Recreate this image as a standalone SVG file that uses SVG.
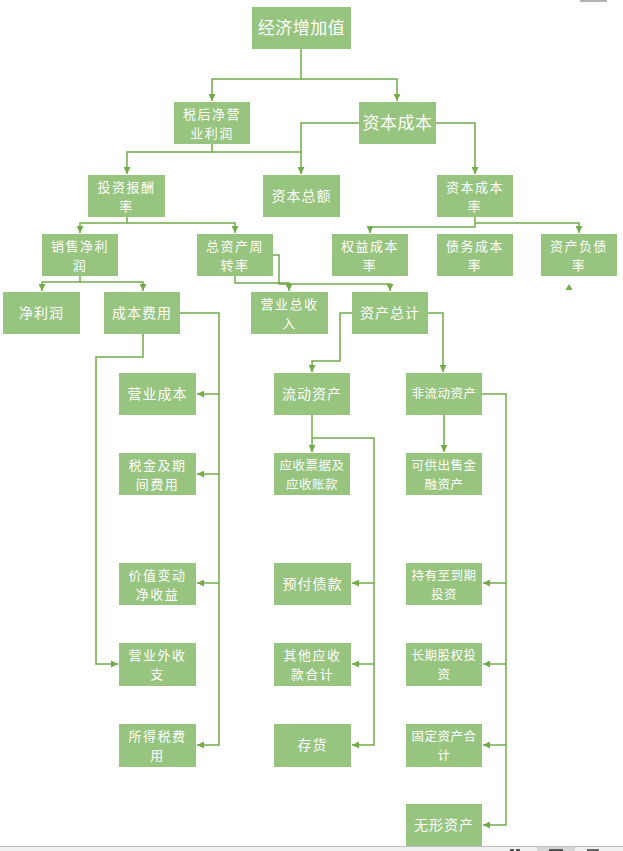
<svg xmlns="http://www.w3.org/2000/svg" width="623" height="851" viewBox="0 0 623 851">
<style>
.box{fill:#97c47f}
.t{fill:#ffffff;font-family:"Noto Sans CJK SC","Microsoft YaHei",sans-serif;font-size:14px;text-anchor:middle;letter-spacing:1px}
.d{font-size:13px;letter-spacing:1.5px}
.s{font-size:12.5px;letter-spacing:0.5px}
.l{font-size:17px;letter-spacing:0.5px}
.c{fill:none;stroke:#72ab4a;stroke-width:1.5}
</style>
<defs>
<marker id="ah" viewBox="0 0 8 8" refX="8" refY="4" markerWidth="7" markerHeight="7" markerUnits="userSpaceOnUse" orient="auto">
<path d="M0,0 L8,4 L0,8 z" fill="#72ab4a"/>
</marker>
</defs>
<rect width="623" height="851" fill="#ffffff"/>
<g id="connectors">
<path class="c" d="M301,49 V79 H212 V101" marker-end="url(#ah)"/>
<path class="c" d="M301,79 H397 V101" marker-end="url(#ah)"/>
<path class="c" d="M359,123 H301 V174" marker-end="url(#ah)"/>
<path class="c" d="M436,123 H475 V174" marker-end="url(#ah)"/>
<path class="c" d="M212,144 V152 H127 V174" marker-end="url(#ah)"/>
<path class="c" d="M212,152 H301"/>
<path class="c" d="M127,217 V223 H80 V233" marker-end="url(#ah)"/>
<path class="c" d="M127,223 H235 V233" marker-end="url(#ah)"/>
<path class="c" d="M80,276 V282 H42 V291" marker-end="url(#ah)"/>
<path class="c" d="M80,282 H143 V291" marker-end="url(#ah)"/>
<path class="c" d="M235,276 V283 H289 V291" marker-end="url(#ah)"/>
<path class="c" d="M273,255 H279 V284 H390 V291" marker-end="url(#ah)"/>
<path class="c" d="M475,217 V227 H370 V233" marker-end="url(#ah)"/>
<path class="c" d="M475,223 H579 V233" marker-end="url(#ah)"/>
<path d="M569,284 L572.5,290 L565.5,290 z" fill="#72ab4a"/>
<path class="c" d="M180,313 H219 V745 H197" marker-end="url(#ah)"/>
<path class="c" d="M219,394 H197" marker-end="url(#ah)"/>
<path class="c" d="M219,474 H197" marker-end="url(#ah)"/>
<path class="c" d="M219,583 H197" marker-end="url(#ah)"/>
<path class="c" d="M143,334 V357 H96 V664 H118" marker-end="url(#ah)"/>
<path class="c" d="M352,313 H340 V361 H312 V372" marker-end="url(#ah)"/>
<path class="c" d="M428,313 H443 V372" marker-end="url(#ah)"/>
<path class="c" d="M312,415 V452" marker-end="url(#ah)"/>
<path class="c" d="M312,438 H374 V745 H352" marker-end="url(#ah)"/>
<path class="c" d="M374,583 H352" marker-end="url(#ah)"/>
<path class="c" d="M374,664 H352" marker-end="url(#ah)"/>
<path class="c" d="M444,415 V452" marker-end="url(#ah)"/>
<path class="c" d="M482,394 H506 V825 H483" marker-end="url(#ah)"/>
<path class="c" d="M506,583 H483" marker-end="url(#ah)"/>
<path class="c" d="M506,664 H483" marker-end="url(#ah)"/>
<path class="c" d="M506,745 H483" marker-end="url(#ah)"/>
</g>
<g id="n_eva"><rect class="box" x="252" y="7" width="99" height="42"/><text class="t l" x="301.5" y="34">经济增加值</text></g>
<g id="n_nopat"><rect class="box" x="174" y="102" width="76" height="42"/><text class="t d" x="212" y="119">税后净营<tspan x="212" dy="19">业利润</tspan></text></g>
<g id="n_capcost"><rect class="box" x="359" y="102" width="77" height="42"/><text class="t l" x="397.5" y="129">资本成本</text></g>
<g id="n_roi"><rect class="box" x="88" y="175" width="77" height="42"/><text class="t d" x="126.5" y="192">投资报酬<tspan x="126.5" dy="19">率</tspan></text></g>
<g id="n_captotal"><rect class="box" x="263" y="175" width="77" height="42"/><text class="t" x="301.5" y="201">资本总额</text></g>
<g id="n_caprate"><rect class="box" x="437" y="175" width="76" height="42"/><text class="t d" x="475" y="192">资本成本<tspan x="475" dy="19">率</tspan></text></g>
<g id="n_npm"><rect class="box" x="42" y="234" width="76" height="42"/><text class="t d" x="80" y="251">销售净利<tspan x="80" dy="19">润</tspan></text></g>
<g id="n_turnover"><rect class="box" x="197" y="234" width="76" height="42"/><text class="t d" x="235" y="251">总资产周<tspan x="235" dy="19">转率</tspan></text></g>
<g id="n_equity"><rect class="box" x="332" y="234" width="76" height="42"/><text class="t d" x="370" y="251">权益成本<tspan x="370" dy="19">率</tspan></text></g>
<g id="n_debt"><rect class="box" x="437" y="234" width="76" height="42"/><text class="t d" x="475" y="251">债务成本<tspan x="475" dy="19">率</tspan></text></g>
<g id="n_leverage"><rect class="box" x="541" y="234" width="76" height="42"/><text class="t d" x="579" y="251">资产负债<tspan x="579" dy="19">率</tspan></text></g>
<g id="n_netprofit"><rect class="box" x="3" y="292" width="77" height="42"/><text class="t" x="41.5" y="318">净利润</text></g>
<g id="n_costexp"><rect class="box" x="104" y="292" width="76" height="42"/><text class="t" x="142" y="318">成本费用</text></g>
<g id="n_revenue"><rect class="box" x="251" y="292" width="77" height="42"/><text class="t d" x="289.5" y="309">营业总收<tspan x="289.5" dy="19">入</tspan></text></g>
<g id="n_assets"><rect class="box" x="352" y="292" width="76" height="42"/><text class="t" x="390" y="318">资产总计</text></g>
<g id="n_opcost"><rect class="box" x="119" y="373" width="77" height="42"/><text class="t" x="157.5" y="399">营业成本</text></g>
<g id="n_current"><rect class="box" x="274" y="373" width="76" height="42"/><text class="t" x="312" y="399">流动资产</text></g>
<g id="n_noncurrent"><rect class="box" x="406" y="373" width="76" height="42"/><text class="t s" x="444" y="398">非流动资产</text></g>
<g id="n_tax"><rect class="box" x="119" y="453" width="77" height="42"/><text class="t d" x="157.5" y="470">税金及期<tspan x="157.5" dy="19">间费用</tspan></text></g>
<g id="n_receivable"><rect class="box" x="274" y="453" width="76" height="42"/><text class="t s" x="312" y="470">应收票据及<tspan x="312" dy="18.5">应收账款</tspan></text></g>
<g id="n_afs"><rect class="box" x="406" y="453" width="76" height="42"/><text class="t s" x="444" y="470">可供出售金<tspan x="444" dy="18.5">融资产</tspan></text></g>
<g id="n_fairvalue"><rect class="box" x="119" y="563" width="77" height="42"/><text class="t d" x="157.5" y="580">价值变动<tspan x="157.5" dy="19">净收益</tspan></text></g>
<g id="n_prepaid"><rect class="box" x="274" y="563" width="77" height="42"/><text class="t" x="312.5" y="589">预付债款</text></g>
<g id="n_htm"><rect class="box" x="406" y="563" width="76" height="42"/><text class="t s" x="444" y="580">持有至到期<tspan x="444" dy="18.5">投资</tspan></text></g>
<g id="n_nonop"><rect class="box" x="119" y="643" width="77" height="43"/><text class="t d" x="157.5" y="660">营业外收<tspan x="157.5" dy="19">支</tspan></text></g>
<g id="n_otherrec"><rect class="box" x="274" y="643" width="77" height="43"/><text class="t d" x="312.5" y="660">其他应收<tspan x="312.5" dy="19">款合计</tspan></text></g>
<g id="n_ltequity"><rect class="box" x="406" y="643" width="76" height="43"/><text class="t s" x="444" y="660">长期股权投<tspan x="444" dy="18.5">资</tspan></text></g>
<g id="n_incometax"><rect class="box" x="119" y="724" width="77" height="43"/><text class="t d" x="157.5" y="741">所得税费<tspan x="157.5" dy="19">用</tspan></text></g>
<g id="n_inventory"><rect class="box" x="274" y="724" width="77" height="43"/><text class="t" x="312.5" y="750">存货</text></g>
<g id="n_fixed"><rect class="box" x="406" y="724" width="76" height="43"/><text class="t s" x="444" y="741">固定资产合<tspan x="444" dy="18.5">计</tspan></text></g>
<g id="n_intangible"><rect class="box" x="406" y="804" width="76" height="42"/><text class="t" x="444" y="830">无形资产</text></g>
<g id="chrome">
<line x1="580" y1="1" x2="607" y2="1" stroke="#9a9a9a" stroke-width="1.5"/>
<rect x="0" y="846" width="623" height="5" fill="#f0f0f0"/>
<line x1="0" y1="846.5" x2="623" y2="846.5" stroke="#bdbdbd" stroke-width="1"/>
<rect x="537" y="847" width="38" height="4" fill="#d6d6d6"/>
<rect x="510" y="849" width="4" height="2" fill="#555"/>
<rect x="516" y="849" width="4" height="2" fill="#555"/>
<rect x="549" y="849" width="14" height="2" fill="#555"/>
<rect x="587" y="849" width="12" height="2" fill="#666"/>
</g>
</svg>
